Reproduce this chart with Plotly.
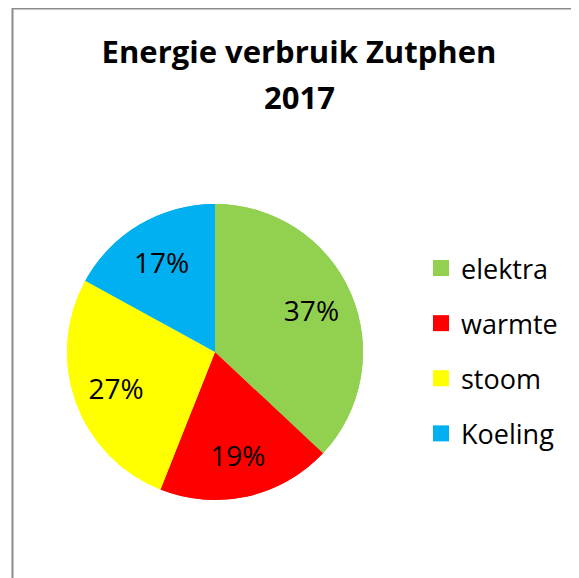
import plotly.graph_objects as go

categories = ["elektra", "warmte", "stoom", "Koeling"]
values = [37, 19, 27, 17]
colors = ["#92D050", "#FF0000", "#FFFF00", "#00B0F0"]
title_line1 = "Energie verbruik Zutphen"
title_line2 = "2017"

# page body has an 8px margin; work in reference pixel coords and offset
OFF = 8
W, H = 579 - OFF, 578 - OFF
FONT = "Open Sans"


def px(x):
    return (x - OFF) / W


def py(y):
    return 1 - (y - OFF) / H


dom = dict(x=[px(67), px(363)], y=[py(500), py(204)])

fig = go.Figure()
# full disc (no labels)
fig.add_trace(go.Pie(
    labels=categories, values=values, sort=False, direction="clockwise", rotation=0,
    marker=dict(colors=colors, line=dict(width=0)),
    textinfo="none", domain=dom, showlegend=False, hoverinfo="skip",
))
# ring carrying the labels at ~0.7 r
fig.add_trace(go.Pie(
    labels=categories, values=values, sort=False, direction="clockwise", rotation=0,
    hole=0.42,
    marker=dict(colors=colors, line=dict(width=0)),
    texttemplate="%{percent:.0%}", textposition="inside", insidetextorientation="horizontal",
    textfont=dict(family=FONT, size=28, color="#000000"),
    domain=dom, showlegend=False, hoverinfo="label+percent",
))
# legend entries
for c, col in zip(categories, colors):
    fig.add_trace(go.Scatter(
        x=[None], y=[None], mode="markers", name=c, legendgroup=c,
        marker=dict(symbol="square", size=16, color=col),
        showlegend=True,
    ))

fig.update_layout(
    width=W, height=H,
    margin=dict(l=0, r=0, t=0, b=0),
    paper_bgcolor="white", plot_bgcolor="white",
    xaxis=dict(visible=False), yaxis=dict(visible=False),
    title=dict(text="<b>" + title_line1 + "</b>", x=px(299), xanchor="center",
               y=py(52), yanchor="middle",
               font=dict(family=FONT, size=31, color="#000000")),
    annotations=[dict(text="<b>" + title_line2 + "</b>", x=px(299), y=py(97),
                      xref="paper", yref="paper", xanchor="center", yanchor="middle",
                      showarrow=False, font=dict(family=FONT, size=31, color="#000000"))],
    legend=dict(x=px(421), xanchor="left", y=py(351), yanchor="middle",
                font=dict(family=FONT, size=27, color="#000000"),
                tracegroupgap=17, itemclick=False, bgcolor="rgba(0,0,0,0)"),
    shapes=[dict(type="path", xref="paper", yref="paper",
                 path=f"M {px(12.5)},0 L {px(12.5)},{py(8.5)} L 1,{py(8.5)}",
                 line=dict(color="#8C8C8C", width=2))],
)
fig.write_html("out.html")
